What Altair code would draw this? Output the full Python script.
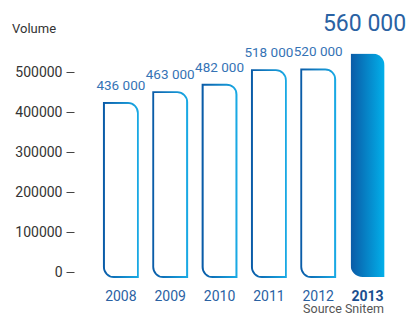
import altair as alt
import pandas as pd

years = ["2008", "2009", "2010", "2011", "2012", "2013"]
volumes = [436000, 463000, 482000, 518000, 520000, 560000]
labels = ["436 000", "463 000", "482 000", "518 000", "520 000", "560 000"]
highlight = [False, False, False, False, False, True]
y_ticks = [0, 100000, 200000, 300000, 400000, 500000]

df = pd.DataFrame({"year": years, "volume": volumes, "label": labels, "hl": highlight})

FONT = "Roboto"
W, H = 335, 232
YMAX = 581000
grad = {
    "gradient": "linear", "x1": 0, "x2": 1, "y1": 0, "y2": 0,
    "stops": [{"offset": 0, "color": "#0a5ca8"}, {"offset": 1, "color": "#19a9e4"}],
}
grad_fill = {
    "gradient": "linear", "x1": 0, "x2": 1, "y1": 0, "y2": 0,
    "stops": [{"offset": 0, "color": "#0a5aa6"}, {"offset": 1, "color": "#02b0ea"}],
}

x = alt.X(
    "year:N",
    sort=years,
    scale=alt.Scale(paddingInner=0.31, paddingOuter=0.55, align=0.55),
    axis=alt.Axis(
        title=None, domain=False, ticks=False, labelPadding=17, labelFontSize=14,
        labelFont=FONT, labelAngle=0,
        labelColor={"condition": {"test": "datum.value == '2013'", "value": "#1a4f8f"}, "value": "#2a62a3"},
        labelFontWeight={"condition": {"test": "datum.value == '2013'", "value": "bold"}, "value": "normal"},
    ),
)
y_axis = alt.Y(
    "volume:Q",
    scale=alt.Scale(domain=[0, YMAX], nice=False),
    axis=alt.Axis(
        title=None, values=y_ticks, format="d", domain=False, grid=False,
        tickSize=8, tickColor="#444", tickWidth=1, labelPadding=4,
        labelFontSize=14, labelFont=FONT, labelColor="#333",
    ),
)
# bars sit a few pixels lower than the axis baseline, as in the original
y_bar = alt.Y(
    "volume:Q",
    scale=alt.Scale(domain=[0, YMAX], nice=False, range=[H + 5, 5]),
    axis=None,
)

base = alt.Chart(df)

outline = base.transform_filter("!datum.hl").mark_bar(
    fill="white", stroke=grad, strokeWidth=1.8,
    cornerRadiusTopRight=10, cornerRadiusBottomLeft=10, clip=False,
).encode(x=x, y=y_bar)

filled = base.transform_filter("datum.hl").mark_bar(
    fill=grad_fill, cornerRadiusTopRight=12, cornerRadiusBottomLeft=12, clip=False,
).encode(x=x, y=y_bar)

bars = alt.layer(outline, filled)

small_text = base.transform_filter("!datum.hl").mark_text(
    dy=-8, baseline="alphabetic", fontSize=13.5, font=FONT, color="#3573b5",
).encode(x=x, y=y_axis, text="label:N")

big_text = base.transform_filter("datum.hl").mark_text(
    dy=-17, dx=-3, baseline="alphabetic", fontSize=23, font=FONT, color="#2a62a3",
).encode(x=x, y=y_axis, text="label:N")

texts = alt.layer(small_text, big_text)

vol_title = alt.Chart(pd.DataFrame({"t": ["Volume"]})).mark_text(
    align="left", baseline="middle", fontSize=13, font=FONT, color="#333",
).encode(x=alt.value(-62), y=alt.value(-11), text="t:N")

source = alt.Chart(pd.DataFrame({"t": ["Source Snitem"]})).mark_text(
    align="right", baseline="alphabetic", fontSize=12.5, font=FONT, color="#555",
).encode(x=alt.value(310), y=alt.value(273), text="t:N")

chart = alt.layer(texts, bars, vol_title, source).resolve_scale(y="independent").properties(
    width=W, height=H,
    autosize=alt.AutoSizeParams(type="none"),
    padding={"left": 66, "top": 32, "right": 0, "bottom": 45},
).configure_view(stroke=None)

chart.save("out.html", embed_options={"renderer": "svg", "actions": False})
